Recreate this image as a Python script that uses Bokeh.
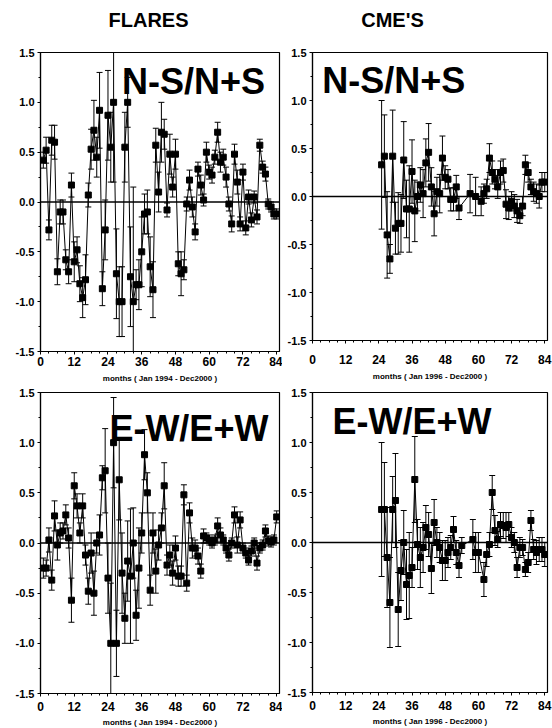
from bokeh.plotting import figure
from bokeh.models import Range1d, FixedTicker, NumeralTickFormatter, Span, Label, ColumnDataSource
from bokeh.core.properties import value
from bokeh.layouts import column, row
from bokeh.embed import file_html
from bokeh.resources import INLINE

# ---------------- data ----------------
column_titles = ["FLARES", "CME'S"]
x_ticks = [0, 12, 24, 36, 48, 60, 72, 84]
y_ticks = [-1.5, -1.0, -0.5, 0.0, 0.5, 1.0, 1.5]

flare_ns_months = list(range(1, 85))
flare_ns_vals = [0.42, 0.52, -0.28, 0.62, 0.60, -0.70, -0.10, -0.10, -0.58, -0.70,
                 0.17, -0.60, -0.48, -0.82, -0.96, -0.78, 0.07, 0.53, 0.72, 0.45,
                 0.92, -0.87, -0.28, 0.87, 0.55, 1.00, -0.72, -1.00, -1.00, 0.55,
                 1.00, -0.75, -1.00, -0.83, -0.83, -0.50, -0.12, -0.10, -0.65, -0.88,
                 0.57, 0.10, 0.70, 0.68, -0.08, 0.48, 0.15, 0.48, -0.62, -0.72,
                 -0.68, -0.02, 0.22, -0.05, -0.30, 0.33, 0.17, 0.02, 0.50, 0.30,
                 0.27, 0.45, 0.70, 0.40, 0.45, 0.25, -0.02, -0.22, 0.48, 0.20,
                 -0.22, 0.30, -0.26, 0.05, -0.18, 0.05, -0.15, 0.57, 0.35, 0.28,
                 -0.02, -0.05, -0.12, -0.12]
flare_ns_errs = [0.08, 0.13, 0.10, 0.15, 0.17, 0.13, 0.12, 0.12, 0.10, 0.12,
                 0.12, 0.20, 0.13, 0.18, 0.20, 0.25, 0.12, 0.20, 0.30, 0.20,
                 0.38, 0.17, 0.30, 0.45, 0.35, 0.80, 0.45, 0.35, 0.35, 0.35,
                 0.25, 0.50, 1.15, 0.15, 0.25, 0.35, 0.20, 0.22, 0.30, 0.28,
                 0.17, 0.20, 0.30, 0.15, 0.07, 0.20, 0.10, 0.15, 0.12, 0.22,
                 0.10, 0.07, 0.10, 0.10, 0.08, 0.07, 0.10, 0.06, 0.10, 0.07,
                 0.08, 0.07, 0.10, 0.10, 0.08, 0.10, 0.07, 0.08, 0.10, 0.12,
                 0.07, 0.08, 0.07, 0.07, 0.07, 0.06, 0.07, 0.06, 0.06, 0.07,
                 0.05, 0.05, 0.05, 0.05]

cme_ns_months = [25, 26, 27, 28, 29, 30, 31, 32, 33, 34,
                 35, 36, 37, 38, 39, 40, 41, 42, 43, 44,
                 45, 46, 47, 48, 49, 50, 51, 52, 53,
                 57, 59,
                 61, 62, 63, 64, 65, 66, 67, 68, 69, 70,
                 71, 72, 73, 74, 75, 76, 77, 78, 79, 80,
                 81, 82, 83, 84]
cme_ns_vals = [0.33, 0.42, -0.40, -0.65, 0.42, -0.33, -0.28, -0.28, 0.38, -0.13,
               -0.13, 0.26, -0.15, 0.00, 0.12, 0.03, 0.35, 0.46, 0.10, -0.18,
               0.05, 0.03, 0.40, 0.20, 0.18, -0.03, -0.03, 0.10, -0.12,
               0.03, 0.00,
               -0.05, 0.03, 0.08, 0.40, 0.25, 0.18, 0.10, 0.25, 0.27, -0.08,
               -0.12, -0.05, -0.10, -0.15, -0.20, -0.10, 0.33, 0.25, 0.10, 0.05,
               0.03, 0.00, 0.15, 0.15]
cme_ns_errs = [0.67, 0.43, 0.45, 0.15, 0.48, 0.27, 0.32, 0.30, 0.40, 0.30,
               0.45, 0.33, 0.32, 0.15, 0.18, 0.25, 0.25, 0.30, 0.20, 0.23,
               0.15, 0.20, 0.23, 0.12, 0.10, 0.12, 0.12, 0.12, 0.12,
               0.20, 0.20,
               0.15, 0.10, 0.10, 0.15, 0.12, 0.10, 0.12, 0.12, 0.12, 0.15,
               0.12, 0.10, 0.12, 0.12, 0.08, 0.10, 0.10, 0.10, 0.08, 0.10,
               0.10, 0.12, 0.10, 0.10]

flare_ew_months = list(range(1, 85))
flare_ew_vals = [-0.25, -0.25, 0.03, -0.37, 0.27, -0.02, 0.10, 0.12, 0.28, 0.05,
                 -0.57, 0.57, 0.37, 0.10, 0.37, -0.12, -0.48, -0.10, -0.50, 0.00,
                 0.08, 0.65, 0.72, -0.35, -1.00, 1.00, -1.00, 0.63, -0.30, -0.75,
                 -0.18, -0.33, 0.00, -0.72, -0.25, 0.10, 0.88, 0.50, -0.47, 0.10,
                 -0.28, -0.02, 0.15, 0.57, -0.22, -0.12, -0.30, -0.05, -0.33, -0.33,
                 0.48, -0.40, 0.30, -0.05, -0.05, -0.13, -0.28, 0.07, 0.05, 0.03,
                 0.00, 0.03, 0.17, 0.08, 0.03, -0.05, -0.12, 0.00, 0.28, -0.02,
                 0.23, -0.05, -0.10, -0.17, -0.08, 0.00, -0.20, -0.05, -0.02, 0.12,
                 0.02, 0.01, 0.03, 0.26]
flare_ew_errs = [0.10, 0.08, 0.12, 0.10, 0.15, 0.15, 0.10, 0.08, 0.10, 0.10,
                 0.22, 0.13, 0.12, 0.10, 0.12, 0.10, 0.13, 0.20, 0.22, 0.10,
                 0.20, 0.12, 0.42, 0.35, 0.60, 0.45, 0.33, 0.40, 0.40, 0.25,
                 0.40, 0.67, 0.35, 0.25, 0.40, 0.20, 0.25, 0.20, 0.15, 0.20,
                 0.22, 0.15, 0.15, 0.23, 0.10, 0.10, 0.12, 0.12, 0.10, 0.10,
                 0.10, 0.08, 0.10, 0.10, 0.08, 0.08, 0.07, 0.07, 0.05, 0.05,
                 0.05, 0.05, 0.08, 0.07, 0.05, 0.05, 0.06, 0.05, 0.08, 0.08,
                 0.08, 0.05, 0.05, 0.05, 0.05, 0.05, 0.07, 0.05, 0.05, 0.06,
                 0.05, 0.05, 0.05, 0.06]

cme_ew_months = [25, 26, 27, 28, 29, 30, 31, 32, 33, 34,
                 35, 36, 37, 38, 39, 40, 41, 42, 43, 44,
                 45, 46, 47, 48, 49, 50, 51, 52, 53, 54,
                 58, 59, 60,
                 62, 63, 64, 65, 66, 67, 68, 69, 70, 71,
                 72, 73, 74, 75, 76, 77, 78, 79, 80, 81,
                 82, 83, 84]
cme_ew_vals = [0.33, 0.33, -0.15, -0.60, 0.33, 0.42, -0.67, -0.28, 0.00, -0.42,
               -0.33, -0.25, 0.63, -0.02, -0.15, -0.05, 0.15, 0.08, -0.26, 0.20,
               0.00, -0.05, -0.18, -0.18, -0.10, -0.05, 0.13, -0.10, -0.23, -0.03,
               0.03, -0.10, -0.10,
               -0.37, -0.12, -0.02, 0.50, 0.12, 0.03, 0.18, 0.17, 0.15, 0.18,
               0.05, 0.00, -0.25, -0.05, -0.05, -0.27, -0.20, 0.22, -0.07, -0.10,
               -0.07, -0.07, -0.12]
cme_ew_errs = [0.67, 0.47, 0.50, 0.45, 0.33, 0.47, 0.37, 0.30, 0.32, 0.35,
               0.43, 0.20, 0.43, 0.25, 0.30, 0.25, 0.22, 0.22, 0.25, 0.23,
               0.15, 0.15, 0.20, 0.20, 0.15, 0.12, 0.13, 0.12, 0.12, 0.08,
               0.20, 0.20, 0.20,
               0.17, 0.12, 0.12, 0.17, 0.15, 0.08, 0.12, 0.13, 0.15, 0.12,
               0.10, 0.10, 0.10, 0.10, 0.08, 0.07, 0.10, 0.10, 0.10, 0.12,
               0.12, 0.12, 0.12]

FONT = "Liberation Sans"


def panel(months, vals, errs, fw, fh, bl, br, bt, bb, xlabel, tag, tag_x, tag_y,
          tick_standoff, label_standoff):
    p = figure(frame_width=fw, frame_height=fh,
               min_border_left=bl, min_border_right=br,
               min_border_top=bt, min_border_bottom=bb,
               x_range=Range1d(0, 85), y_range=Range1d(-1.5, 1.5),
               output_backend="svg", toolbar_location=None)
    p.grid.visible = False
    p.outline_line_color = "black"
    p.outline_line_width = 1.2
    p.background_fill_color = "white"
    p.border_fill_color = "white"

    p.xaxis.ticker = FixedTicker(ticks=x_ticks, minor_ticks=list(range(0, 86, 3)))
    p.yaxis.ticker = FixedTicker(ticks=y_ticks,
                                 minor_ticks=[-1.25, -0.75, -0.25, 0.25, 0.75, 1.25])
    p.yaxis.formatter = NumeralTickFormatter(format="0.0")
    for ax in (p.xaxis[0], p.yaxis[0]):
        ax.axis_line_color = "black"
        ax.axis_line_width = 1.2
        ax.major_tick_out = 3
        ax.major_tick_in = 0
        ax.minor_tick_out = 2
        ax.minor_tick_in = 0
        ax.major_label_text_font = FONT
        ax.major_label_text_font_style = "bold"
        ax.major_label_text_color = "black"
    p.xaxis.major_label_text_font_size = "12px"
    p.yaxis.major_label_text_font_size = "11px"
    p.xaxis.major_label_standoff = tick_standoff
    p.yaxis.major_label_standoff = 3
    p.xaxis.axis_label = xlabel
    p.xaxis.axis_label_text_font = FONT
    p.xaxis.axis_label_text_font_size = "8px"
    p.xaxis.axis_label_text_font_style = "bold"
    p.xaxis.axis_label_text_color = "black"
    p.xaxis.axis_label_standoff = label_standoff

    src = ColumnDataSource(dict(
        x=months, y=vals,
        lo=[v - e for v, e in zip(vals, errs)],
        hi=[v + e for v, e in zip(vals, errs)],
    ))
    p.add_layout(Span(location=0, dimension="width", line_color="black", line_width=1.3))
    p.segment(x0="x", y0="lo", x1="x", y1="hi", source=src, line_color="black", line_width=1)
    p.scatter("x", "lo", source=src, marker="dash", size=6, line_color="black", line_width=1)
    p.scatter("x", "hi", source=src, marker="dash", size=6, line_color="black", line_width=1)
    p.line("x", "y", source=src, line_color="black", line_width=1)
    p.scatter("x", "y", source=src, marker="square", size=6,
              fill_color="black", line_color="black")

    p.add_layout(Label(x=tag_x, y=tag_y, text=tag, text_font=FONT,
                       text_font_size="36px", text_font_style="bold",
                       text_color="black", text_baseline="alphabetic"))
    return p


# ---- header strip with the two column titles ----
head = figure(width=552, height=36, x_range=Range1d(0, 552), y_range=Range1d(0, 36),
              output_backend="svg", toolbar_location=None, min_border=0)
head.axis.visible = False
head.grid.visible = False
head.outline_line_color = None
head.text(x=[148, 392], y=[17, 17], text=column_titles, text_font=value(FONT),
          text_font_size="20px", text_font_style="bold", text_color="black",
          text_align="center", text_baseline="middle")

pa = panel(flare_ns_months, flare_ns_vals, flare_ns_errs, 239, 299, 40, 3, 14, 34,
           "months ( Jan 1994 - Dec2000 )", "N-S/N+S", 29.0, 1.21, 2, 5)
pb = panel(cme_ns_months, cme_ns_vals, cme_ns_errs, 235, 288, 30, 5, 16, 43,
           "months ( Jan 1996 - Dec2000 )", "N-S/N+S", 3.5, 1.21, 11, 5)
pc = panel(flare_ew_months, flare_ew_vals, flare_ew_errs, 239, 301, 40, 3, 8, 36,
           "months ( Jan 1994 - Dec2000 )", "E-W/E+W", 24.5, 1.14, 5, 4)
pd = panel(cme_ew_months, cme_ew_vals, cme_ew_errs, 235, 300, 30, 5, 9, 36,
           "months ( Jan 1996 - Dec2000 )", "E-W/E+W", 7.2, 1.21, 5, 4)

layout = column(head, row(pa, pb), row(pc, pd))
open("out.html", "w").write(file_html(layout, INLINE))
